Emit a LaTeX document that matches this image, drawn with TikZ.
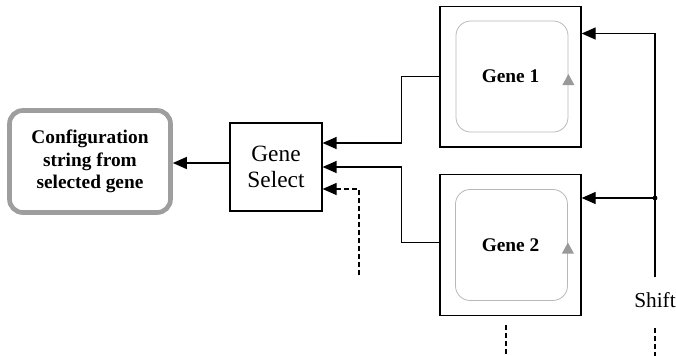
\documentclass[tikz,border=0pt]{standalone}
\usepackage{fontspec}
\setmainfont{Liberation Serif}
\usetikzlibrary{positioning, arrows.meta, calc}

\begin{document}
\begin{tikzpicture}[x=0.75pt, y=-0.75pt]
        % Styles
        \tikzstyle{genebox} = [rectangle, draw=black, line width=1pt,
        minimum width=105.75pt, minimum height=105.5pt, inner sep=0pt,
        font=\fontsize{14.5pt}{17pt}\selectfont\bfseries]
        \tikzstyle{loopbox} = [rectangle, rounded corners=11pt, draw=black!28,
        line width=0.6pt, minimum width=84pt, minimum height=83.25pt]
        \tikzstyle{selectbox} = [rectangle, draw=black, line width=0.9pt,
        minimum width=69pt, minimum height=66pt, inner sep=0pt, align=center,
        font=\fontsize{17.5pt}{19.5pt}\selectfont]
        \tikzstyle{outbox} = [rectangle, rounded corners=10pt, draw=black!38,
        line width=3.5pt, minimum width=120.75pt, minimum height=76.5pt,
        inner sep=0pt, align=center, font=\fontsize{14.5pt}{16.9pt}\selectfont\bfseries]
        \tikzstyle{arr} = [-{Triangle[length=10.5pt,width=9pt]}, line width=1pt]
        \tikzstyle{ghost} = [dash pattern=on 3.75pt off 2.25pt, line width=0.9pt]
        \tikzstyle{loopmark} = [fill=black!40]

        \useasboundingbox (0,0) rectangle (676,355);

        % Nodes
        \node (gene1) [genebox] at (510.5,76.5) {Gene 1};
        \node (gene2) [genebox] at (510.5,245) {Gene 2};
        \node (loop1) [loopbox] at (512,76.5) {};
        \node (loop2) [loopbox] at (511.5,245) {};
        \node (select) [selectbox] at (276,167) {Gene\\Select};
        \node (config) [outbox] at (90,161.5)
        {Configuration\\string from\\selected gene};
        \node (shiftlabel) [anchor=base west, inner sep=0pt,
        font=\fontsize{16pt}{18pt}\selectfont] at (634,307) {Shift};

        \coordinate (shift) at (655,277);
        \coordinate (selin) at (359,275);
        \coordinate (g2out) at (506,325);
        \coordinate (g2end) at (506,356);
        \coordinate (shout) at (655,328);
        \coordinate (shend) at (655,356);

        % Loop marks
        \fill[loopmark] ($(loop1.east)+(0,-2.5)$) -- ++(-6,11) -- ++(12,0) -- cycle;
        \fill[loopmark] ($(loop2.east)+(0,-2.5)$) -- ++(-6,11) -- ++(12,0) -- cycle;

        % Arrows
        \draw[arr] ([yshift=3pt]select.west) -- ([yshift=3pt]select.west -| config.east);
        \draw[arr] (gene1.west) -- ++(-38,0) |- ([yshift=18pt]select.east);
        \draw[arr] ([yshift=2pt]gene2.west) -- ++(-38,0) |- (select.east);
        \draw[arr, ghost] (selin) |- ([yshift=-16.5pt]select.east);
        \draw[arr] (shift) |- ([yshift=-21pt]gene1.north east);
        \draw[arr] (shift) |- ([yshift=-18pt]gene2.north east);
        \fill (shift |- gene2.north east) ++(0,24) circle (1.8pt);
        \draw[ghost] (g2out) -- (g2end);
        \draw[ghost] (shout) -- (shend);
    \end{tikzpicture}
\end{document}
